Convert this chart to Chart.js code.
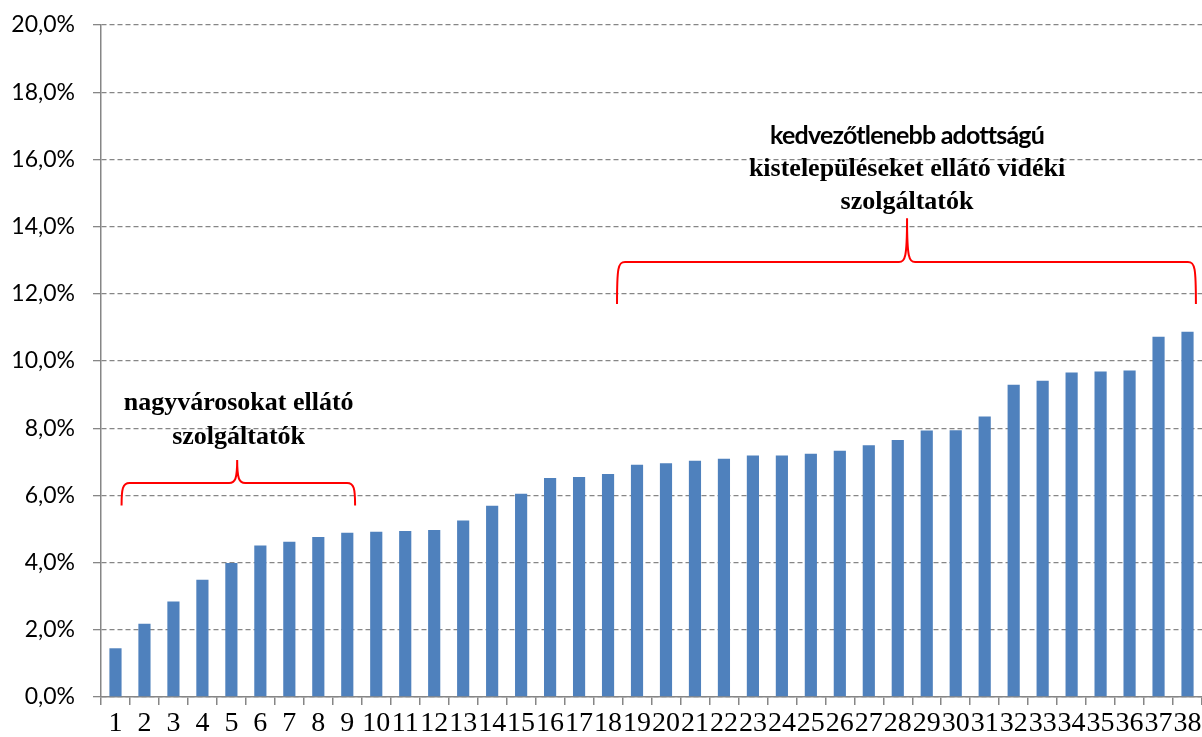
<!DOCTYPE html>
<html>
<head>
<meta charset="utf-8">
<script src="https://cdn.jsdelivr.net/npm/chart.js@4.4.1/dist/chart.umd.min.js"></script>
<style>
  html, body { margin: 0; padding: 0; background: #fff; }
  #wrap { width: 1202px; height: 737px; }
</style>
</head>
<body>
<div id="wrap"><canvas id="chart"></canvas></div>
<script>
// data
const categories = ['1','2','3','4','5','6','7','8','9','10','11','12','13','14','15','16','17','18','19',
  '20','21','22','23','24','25','26','27','28','29','30','31','32','33','34','35','36','37','38'];
const shares = [1.45, 2.18, 2.84, 3.49, 3.99, 4.51, 4.62, 4.76, 4.89, 4.92, 4.94, 4.97, 5.25, 5.69,
  6.05, 6.52, 6.55, 6.64, 6.91, 6.96, 7.03, 7.09, 7.19, 7.19, 7.24, 7.33, 7.49, 7.65, 7.93, 7.94,
  8.35, 9.29, 9.41, 9.66, 9.69, 9.72, 10.72, 10.87];
const yTicks = [0, 2, 4, 6, 8, 10, 12, 14, 16, 18, 20];

const groupLabels = [
  ['nagyvárosokat ellátó', 'szolgáltatók'],
  ['kedvezőtlenebb adottságú', 'kistelepüléseket ellátó vidéki', 'szolgáltatók']
];

// brace / label placement in scale units (category index, percent)
const serifBold = 'bold 26px "Liberation Serif"';
const notes = [
  { from: 0.21, to: 8.27, tip: 4.2, bar: 6.37, end: 5.7, top: 7.05,
    textX: 4.25, textY: [8.75, 7.74], fonts: [serifBold, serifBold], spacing: ['0px', '0px'] },
  { from: 17.31, to: 37.29, tip: 27.32, bar: 12.95, end: 11.7, top: 14.25,
    textX: 27.32, textY: [16.7, 15.7, 14.72],
    fonts: ['bold 25px Lato', serifBold, serifBold], spacing: ['-0.8px', '0px', '0px'] }
];

function brace(ctx, x1, x2, xm, yBar, yEnd, yTip) {
  ctx.beginPath();
  ctx.moveTo(x1, yEnd);
  ctx.bezierCurveTo(x1, yBar + 6, x1 + 1, yBar, x1 + 8, yBar);
  ctx.lineTo(xm - 8, yBar);
  ctx.bezierCurveTo(xm - 2, yBar, xm, yBar - 4, xm, yTip);
  ctx.bezierCurveTo(xm, yBar - 4, xm + 2, yBar, xm + 8, yBar);
  ctx.lineTo(x2 - 8, yBar);
  ctx.bezierCurveTo(x2 - 1, yBar, x2, yBar + 6, x2, yEnd);
  ctx.stroke();
}

const bracePlugin = {
  id: 'braces',
  afterDatasetsDraw(chart) {
    const ctx = chart.ctx;
    const xs = chart.scales.x, ys = chart.scales.y;
    ctx.save();
    ctx.strokeStyle = '#ff0000';
    ctx.lineWidth = 2;
    notes.forEach((n, i) => {
      brace(ctx, xs.getPixelForValue(n.from), xs.getPixelForValue(n.to), xs.getPixelForValue(n.tip),
        ys.getPixelForValue(n.bar), ys.getPixelForValue(n.end), ys.getPixelForValue(n.top));
      ctx.fillStyle = '#000';
      ctx.textAlign = 'center';
      ctx.textBaseline = 'middle';
      groupLabels[i].forEach((line, k) => {
        ctx.font = n.fonts[k];
        ctx.letterSpacing = n.spacing[k];
        ctx.fillText(line, xs.getPixelForValue(n.textX), ys.getPixelForValue(n.textY[k]));
      });
    });
    ctx.restore();
  }
};

new Chart(document.getElementById('chart'), {
  type: 'bar',
  data: {
    labels: categories,
    datasets: [{
      data: shares,
      backgroundColor: '#4f81bd',
      barPercentage: 0.42,
      categoryPercentage: 1
    }]
  },
  options: {
    responsive: true,
    maintainAspectRatio: false,
    animation: false,
    layout: { padding: { top: 25, right: 0, left: 0, bottom: 0 } },
    plugins: { legend: { display: false }, tooltip: { enabled: false } },
    scales: {
      x: {
        afterFit: s => { s.height = 40; s.paddingLeft = 0; s.paddingRight = 0; },
        grid: { drawOnChartArea: false, drawTicks: true, tickLength: 8, color: '#868686', lineWidth: 1.5, offset: true },
        border: { color: '#868686', width: 1.5 },
        ticks: {
          autoSkip: false, maxRotation: 0, minRotation: 0, padding: 5,
          color: '#000', font: { family: '"Liberation Serif"', size: 28, lineHeight: 1 }
        }
      },
      y: {
        min: 0, max: 20,
        afterFit: s => { s.width = 101; s.paddingTop = 0; s.paddingBottom = 0; },
        afterBuildTicks: s => { s.ticks = yTicks.map(v => ({ value: v })); },
        grid: { color: '#868686', lineWidth: 1.3, tickBorderDash: [], tickLength: 8 },
        border: { color: '#868686', width: 1.5, dash: [5, 3] },
        ticks: {
          padding: 18, color: '#000',
          font: { family: 'Lato', size: 23 },
          callback: v => v.toFixed(1).replace('.', ',') + '%'
        }
      }
    }
  },
  plugins: [bracePlugin]
});
</script>
</body>
</html>
